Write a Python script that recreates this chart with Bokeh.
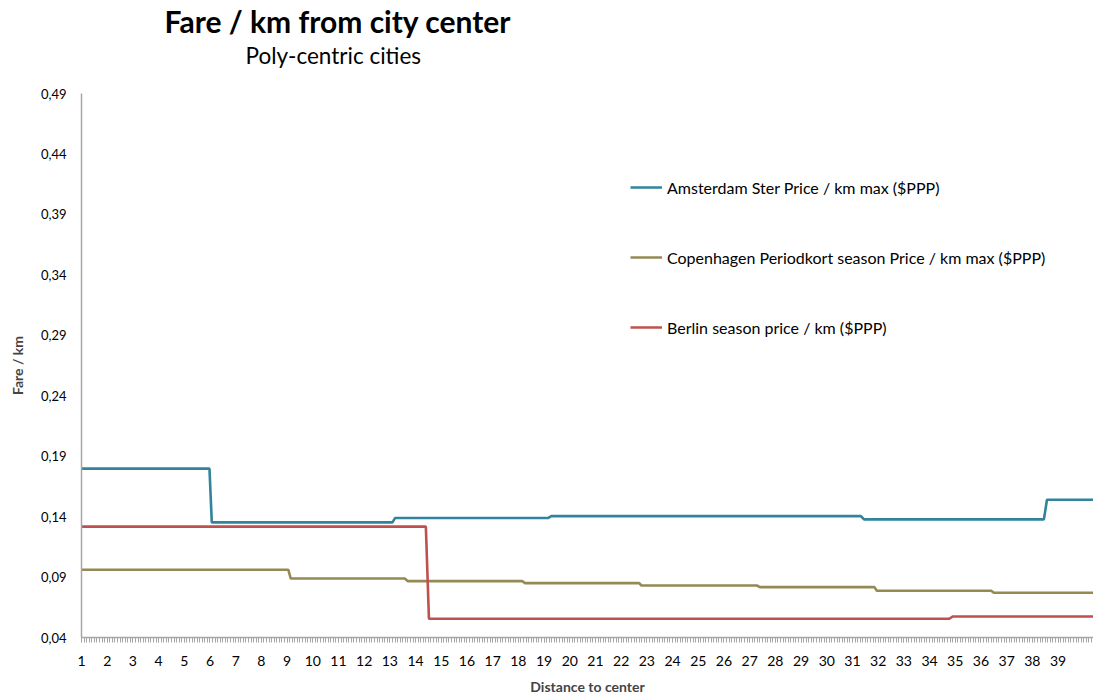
import numpy as np
from bokeh.plotting import figure
from bokeh.models import (Range1d, FixedTicker, CustomJSTickFormatter, Legend,
                          LegendItem, Title)
from bokeh.embed import file_html
from bokeh.resources import INLINE

# ---- data ----
x_ticks = list(range(1, 40))

ams_x = [1.0, 5.98, 6.07, 13.1, 13.2, 19.15, 19.28, 31.33, 31.45, 38.45, 38.57, 40.4]
ams_y = [0.1797, 0.1797, 0.1352, 0.1352, 0.1388, 0.1388, 0.1404, 0.1404, 0.1377, 0.1377, 0.1540, 0.1540]

cph_x = [1.0, 9.05, 9.14, 13.58, 13.7, 18.16, 18.25, 22.7, 22.79, 27.28, 27.4, 31.85, 31.95, 36.4, 36.5, 40.4]
cph_y = [0.0960, 0.0960, 0.0888, 0.0888, 0.0866, 0.0866, 0.0850, 0.0850, 0.0830, 0.0830, 0.0817, 0.0817, 0.0787, 0.0787, 0.0770, 0.0770]

ber_x = [1.0, 14.4, 14.52, 34.77, 34.9, 40.4]
ber_y = [0.1317, 0.1317, 0.0555, 0.0555, 0.0574, 0.0574]

labels = ["Amsterdam Ster Price / km max ($PPP)",
          "Copenhagen Periodkort season Price / km max ($PPP)",
          "Berlin season price / km ($PPP)"]
colors = ["#31849B", "#948A54", "#C0504D"]

FONT = "Lato"

p = figure(width=1093, height=697, x_range=Range1d(1, 40.38), y_range=Range1d(0.04, 0.49),
           output_backend="svg", toolbar_location=None,
           min_border_left=81, min_border_right=0, min_border_top=93, min_border_bottom=60)
p.outline_line_color = None
p.xgrid.visible = False
p.ygrid.visible = False
p.background_fill_color = "white"
p.border_fill_color = "white"

r1 = p.line(ams_x, ams_y, line_color=colors[0], line_width=2.6)
r2 = p.line(cph_x, cph_y, line_color=colors[1], line_width=2.6)
r3 = p.line(ber_x, ber_y, line_color=colors[2], line_width=2.6)

# x axis
xa = p.xaxis[0]
xa.ticker = FixedTicker(ticks=x_ticks, minor_ticks=list(np.round(np.arange(1, 40.4, 0.1), 2)))
xa.axis_line_color = "#A6A6A6"
xa.axis_line_width = 1.5
xa.major_tick_line_color = "#A6A6A6"
xa.minor_tick_line_color = "#A6A6A6"
xa.major_tick_in = 0
xa.major_tick_out = 5
xa.minor_tick_in = 0
xa.minor_tick_out = 5
xa.major_label_standoff = 13
xa.major_label_text_font = FONT
xa.major_label_text_font_size = "14px"
xa.major_label_text_color = "#000000"
xa.axis_label = "Distance to center"
xa.axis_label_text_font = FONT
xa.axis_label_text_font_style = "bold"
xa.axis_label_text_font_size = "14px"
xa.axis_label_standoff = 9

# y axis
ya = p.yaxis[0]
ya.ticker = FixedTicker(ticks=[0.04, 0.09, 0.14, 0.19, 0.24, 0.29, 0.34, 0.39, 0.44, 0.49], minor_ticks=[])
ya.formatter = CustomJSTickFormatter(code="return tick.toFixed(2).replace('.', ',');")
ya.axis_line_color = "#A6A6A6"
ya.axis_line_width = 1.5
ya.major_tick_in = 0
ya.major_tick_out = 0
ya.minor_tick_in = 0
ya.minor_tick_out = 0
ya.major_label_standoff = 15
ya.major_label_text_font = FONT
ya.major_label_text_font_size = "13px"
ya.major_label_text_color = "#000000"
ya.axis_label = "Fare / km"
ya.axis_label_text_font = FONT
ya.axis_label_text_font_style = "bold"
ya.axis_label_text_font_size = "14px"
ya.axis_label_standoff = 12

# legend
legend = Legend(items=[LegendItem(label=labels[0], renderers=[r1]),
                       LegendItem(label=labels[1], renderers=[r2]),
                       LegendItem(label=labels[2], renderers=[r3])],
                location=(549, 300), border_line_color=None, background_fill_alpha=0,
                padding=0, margin=0, spacing=50, label_height=20, glyph_height=20,
                glyph_width=32, label_standoff=5, label_text_font=FONT,
                label_text_font_size="16px", label_text_color="#000000")
p.add_layout(legend)

# titles (first added is closest to the plot): blank spacer, subtitle, title
p.add_layout(Title(text=" ", text_font_size="1px", standoff=22), "above")
p.add_layout(Title(text="Poly-centric cities", align="left", offset=164,
                   text_font=FONT, text_font_style="normal", text_font_size="22.5px",
                   text_color="#000000", standoff=0), "above")
p.add_layout(Title(text="Fare / km from city center", align="left", offset=83,
                   text_font=FONT, text_font_style="bold", text_font_size="30px",
                   text_color="#000000", standoff=1), "above")

open("out.html", "w").write(file_html(p, INLINE))
